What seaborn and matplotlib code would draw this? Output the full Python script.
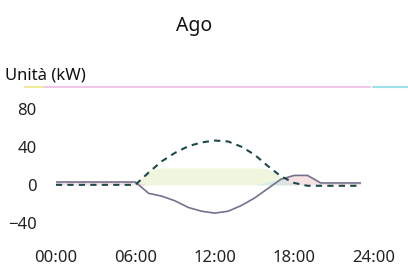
import numpy as np
import pandas as pd
import seaborn as sns
import matplotlib.pyplot as plt
from matplotlib.lines import Line2D

# hourly values (kW)
ore = list(range(24))
fotovoltaico = [0, 0, 0, 0, 0, 0, 0, 13, 25, 34, 41, 45, 47, 46, 40.5, 32, 20, 9, 2, -1, -1, -1, -1, -1]
rete = [3, 3, 3, 3, 3, 3, 3, -9, -12, -17, -24, -28, -30, -28, -22, -14, -4, 6, 10, 10, 2, 2, 2, 2]
consumo = [0, 0, 0, 0, 0, 0, 0, 16, 18, 18, 18, 18, 18, 18, 18, 18, 17, 8, 0, 0, 0, 0, 0, 0]
batteria = [0, 0, 0, 0, 0, 0, 0, 0, 0, 0, 0, 0, 0, 0, 0, 0, 3, 6, 1, 0, 0, 0, 0, 0]

x_ticks = [0, 6, 12, 18, 24]
x_labels = ["00:00", "06:00", "12:00", "18:00", "24:00"]
y_ticks = [80, 40, 0, -40]

df = pd.DataFrame({"ora": ore, "fv": fotovoltaico, "rete": rete,
                   "consumo": consumo, "batteria": batteria})

sns.set_style("white")
plt.rcParams['font.family'] = ['Noto Sans', 'DejaVu Sans']

fig = plt.figure(figsize=(4.08, 2.66), dpi=100)
ax = fig.add_axes([0.137, 0.135, 0.779, 0.482])

# faint areas
ax.fill_between(df["ora"], 0, df["consumo"], color="#e9f3cf", alpha=0.7, lw=0)
ax.fill_between(df["ora"], 0, df["rete"].clip(lower=0), color="#f3d6d6", alpha=0.7, lw=0)
ax.fill_between(df["ora"], 0, df["batteria"], color="#cfeaea", alpha=0.7, lw=0)

sns.lineplot(data=df, x="ora", y="rete", ax=ax, color="#75718f", lw=1.2)
sns.lineplot(data=df, x="ora", y="fv", ax=ax, color="#1c4a4a", lw=1.5,
             linestyle=(0, (3, 2.5)))

ax.set_xlim(0, 24)
ax.set_ylim(-48, 88)
ax.set_xticks(x_ticks)
ax.set_xticklabels(x_labels)
ax.set_yticks(y_ticks)
ax.set_xlabel("")
ax.set_ylabel("")
ax.tick_params(axis="both", length=0, labelsize=12, colors="#222222")
ax.tick_params(axis="y", pad=14)
ax.tick_params(axis="x", pad=14)
sns.despine(ax=ax, left=True, bottom=True)

fig.text(0.476, 1 - 31 / 266, "Ago", ha="center", va="baseline", fontsize=14, color="#111111")
fig.text(0.012, 1 - 80 / 266, "Unità (kW)", ha="left", va="baseline", fontsize=12, color="#111111")

# coloured rule under the unit label
yl = 1 - 87 / 266
fig.add_artist(Line2D([25 / 408, 45 / 408], [yl, yl], color="#f0ec9a", lw=1.5))
fig.add_artist(Line2D([45 / 408, 370 / 408], [yl, yl], color="#efc6e6", lw=1.5))
fig.add_artist(Line2D([373 / 408, 1.0], [yl, yl], color="#9fe2ea", lw=1.5))

fig.savefig("out.png", dpi=100)
